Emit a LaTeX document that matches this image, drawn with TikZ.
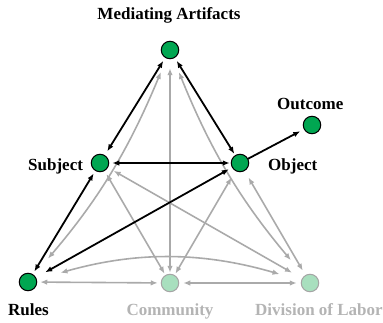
\documentclass[tikz,border=0pt]{standalone}
\usepackage{fontspec}
\setmainfont{Liberation Serif}
\usetikzlibrary{arrows.meta}
\definecolor{nodegreen}{RGB}{0,166,81}
\definecolor{fadegreen}{RGB}{168,223,190}
\definecolor{fadeborder}{RGB}{165,165,165}
\definecolor{linegray}{RGB}{170,170,170}
\definecolor{textgray}{RGB}{180,180,180}
\begin{document}
\begin{tikzpicture}[x=1pt,y=1pt,
  dot/.style={circle,draw=black,fill=nodegreen,line width=1pt,minimum size=17.5pt,inner sep=0pt,outer sep=0pt},
  fadedot/.style={dot,draw=fadeborder,fill=fadegreen},
  lbl/.style={font=\fontsize{17}{20}\selectfont\bfseries,inner sep=0pt,anchor=base west},
  tipk/.tip={Latex[length=7pt,width=5.5pt]},
  blk/.style={line width=1.8pt,black,tipk-tipk},
  gry/.style={line width=1.6pt,linegray,tipk-tipk},
]
\useasboundingbox (0,0) rectangle (383,322);
% nodes
\node[dot] (M) at (170,272) {};
\node[dot] (S) at (100,159) {};
\node[dot] (O) at (240,159) {};
\node[dot] (Out) at (312,197) {};
\node[dot] (R) at (28,40) {};
\node[fadedot] (C) at (170,39) {};
\node[fadedot] (D) at (310,39) {};
% labels
\node[lbl,anchor=base] (tM) at (169,302) {Mediating Artifacts};
\node[lbl] (tS) at (28,152) {Subject};
\node[lbl] (tO) at (268,152) {Object};
\node[lbl] (tOut) at (277,212) {Outcome};
\node[lbl] (tR) at (8,7) {Rules};
\node[lbl,anchor=base,text=textgray] (tC) at (170,7) {Community};
\node[lbl,text=textgray] (tD) at (255,7) {Division of Labor};
% gray connectors
\draw[gry,shorten <=22pt,shorten >=15pt] (R) to[bend right=9] (M);
\draw[gry,shorten <=21pt,shorten >=15pt] (D) to[bend left=9] (M);
\draw[gry,shorten <=25pt,shorten >=23pt] (R) to[bend left=16] (D);
\draw[gry,shorten <=1.5pt,shorten >=9.5pt] (C) -- (M);
\draw[gry,shorten <=4pt,shorten >=2pt] (S) -- (C);
\draw[gry,shorten <=7pt,shorten >=12pt] (S) -- (D);
\draw[gry,shorten <=8pt,shorten >=2pt] (O) -- (C);
\draw[gry,shorten <=8pt,shorten >=5.5pt] (O) -- (D);
\draw[gry,shorten <=3.5pt,shorten >=3.5pt] (R) -- (C);
\draw[gry,shorten <=4.5pt,shorten >=4.5pt] (C) -- (D);
% black connectors
\draw[blk,shorten <=4pt,shorten >=5pt] (M) -- (S);
\draw[blk,shorten <=4pt,shorten >=2pt] (M) -- (O);
\draw[blk,shorten <=3.5pt,shorten >=1.5pt] (S) -- (O);
\draw[blk,shorten <=3.5pt,shorten >=3.5pt] (S) -- (R);
\draw[blk,shorten <=4pt,shorten >=11pt] (O) -- (R);
\draw[line width=1.8pt,black,-tipk,shorten >=4.5pt] (O) -- (Out);
\end{tikzpicture}
\end{document}
